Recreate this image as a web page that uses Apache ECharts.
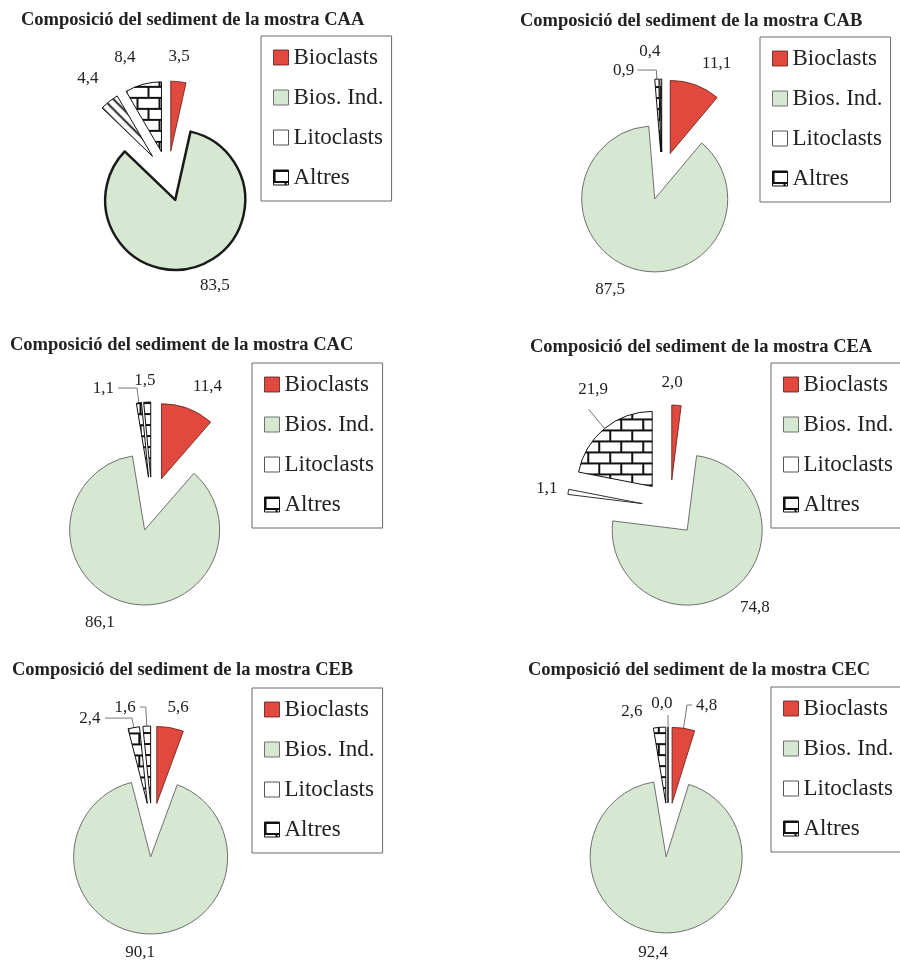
<!DOCTYPE html>
<html><head><meta charset="utf-8">
<script src="https://cdn.jsdelivr.net/npm/echarts@6/dist/echarts.min.js"></script>
<style>html,body{margin:0;padding:0;background:#fff}#c{width:900px;height:961px}</style>
</head><body><div id="c"></div>
<script>
// ---- data ----
const categories = ['Bioclasts', 'Bios. Ind.', 'Litoclasts', 'Altres'];
const samples = ['CAA', 'CAB', 'CAC', 'CEA', 'CEB', 'CEC'];
const valuesCAA = [3.5, 83.5, 4.4, 8.4];
const valuesCAB = [11.1, 87.5, 0.9, 0.4];
const valuesCAC = [11.4, 86.1, 1.1, 1.5];
const valuesCEA = [2.0, 74.8, 1.1, 21.9];
const valuesCEB = [5.6, 90.1, 2.4, 1.6];
const valuesCEC = [4.8, 92.4, 2.6, 0.0];
const titlePrefix = 'Composició del sediment de la mostra ';
const allValues = [valuesCAA, valuesCAB, valuesCAC, valuesCEA, valuesCEB, valuesCEC];

// ---- patterns ----
function brickCanvas() {
  const c = document.createElement('canvas'); c.width = 22; c.height = 22;
  const g = c.getContext('2d');
  g.fillStyle = '#fff'; g.fillRect(0, 0, 22, 22);
  g.strokeStyle = '#111'; g.lineWidth = 2;
  g.beginPath();
  g.moveTo(0, 1); g.lineTo(22, 1);
  g.moveTo(0, 12); g.lineTo(22, 12);
  g.moveTo(1, 1); g.lineTo(1, 12);
  g.moveTo(12, 12); g.lineTo(12, 22);
  g.stroke();
  return c;
}
function diagCanvas() {
  const c = document.createElement('canvas'); c.width = 10; c.height = 10;
  const g = c.getContext('2d');
  g.fillStyle = '#fff'; g.fillRect(0, 0, 10, 10);
  g.strokeStyle = '#111'; g.lineWidth = 1.8;
  g.beginPath();
  g.moveTo(-1, -1); g.lineTo(11, 11);
  g.moveTo(-1, 9); g.lineTo(1, 11);
  g.moveTo(9, -1); g.lineTo(11, 1);
  g.stroke();
  return c;
}
const brick = { image: brickCanvas(), repeat: 'repeat' };
const diag = { image: diagCanvas(), repeat: 'repeat' };

const RED = '#e1493f', GREEN = '#d6e8d2';
const styleRed = { color: RED, borderColor: '#5a1d18', borderWidth: 0.8 };
const styleGreen = { color: GREEN, borderColor: '#707070', borderWidth: 1 };
const styleGreenBold = { color: GREEN, borderColor: '#1a1a1a', borderWidth: 2.5 };
const styleWhite = { color: '#fff', borderColor: '#333', borderWidth: 1 };
const styleBrick = { color: brick, borderColor: '#111', borderWidth: 1 };
const styleDiag = { color: diag, borderColor: '#111', borderWidth: 1 };

// ---- layout (per chart); lab = [labelLine length, length2, distance, lift] per slice ----
const layout = [
  { center: [168, 176], r: 70, off: 25, title: [21, 11], legend: [261, 36],
    styles: [styleRed, styleGreenBold, styleDiag, styleBrick], leader: [0, 0, 0, 0],
    lab: [[24.7, 0, -12.7], [18.9, 0, -0.9], [29.7, 0, -7.6], [27.3, 0, 0.6]] },
  { center: [662, 176], r: 73, off: 24, title: [520, 12], legend: [760, 37],
    styles: [styleRed, styleGreen, styleBrick, styleBrick], leader: [0, 0, 1, 0],
    lab: [[23.2, 0, -1.1], [22.6, 0, 0.7], [9.1, 19, 3], [27, 0, -0.1]] },
  { center: [152, 504], r: 75, off: 27, title: [10, 336], legend: [252, 363],
    styles: [styleRed, styleGreen, styleBrick, styleBrick], leader: [0, 0, 1, 0],
    lab: [[22.9, 0, -2.8], [21.7, 0, 3.4], [14.9, 19, 4], [22.1, 0, -9.4]] },
  { center: [670, 508], r: 75, off: 28, title: [530, 338], legend: [771, 363],
    styles: [styleRed, styleGreen, styleWhite, styleBrick], leader: [0, 0, 0, 1],
    lab: [[22.3, 0, -16.4], [22.5, 0, -7.1], [20, 0, -9.1], [25, 0, -19.4, 20]] },
  { center: [152, 830], r: 77, off: 27, title: [12, 661], legend: [252, 688],
    styles: [styleRed, styleGreen, styleBrick, styleBrick], leader: [0, 0, 1, 1],
    lab: [[20.9, 0, -6.4], [19.1, 0, -9.3], [9.7, 27, 4.6], [19.1, 6, 4]] },
  { center: [668, 830], r: 76, off: 27, title: [528, 661], legend: [771, 687],
    styles: [styleRed, styleGreen, styleBrick, styleBrick], leader: [1, 0, 0, 1],
    lab: [[23.4, 5, 4], [20.3, 0, -8.5], [15.4, 0, 15.8], [12, 0, -4.5, 11]] }
];

const SERIF = '"Liberation Serif", "DejaVu Serif", serif';
const legendIconStyles = [
  { color: RED, borderColor: '#5a1d18', borderWidth: 0.8 },
  { color: GREEN, borderColor: '#707070', borderWidth: 1 },
  { color: '#fff', borderColor: '#555', borderWidth: 1 },
  { color: brick, borderColor: '#111', borderWidth: 1 }
];
const fmt = v => v.toFixed(1).replace('.', ',');

const titles = [], legends = [], series = [];
samples.forEach((s, k) => {
  const L = layout[k];
  titles.push({
    text: titlePrefix + s, left: L.title[0], top: L.title[1], padding: 0,
    textStyle: { fontFamily: SERIF, fontWeight: 'bold', fontSize: 18.5, color: '#222' }
  });
  legends.push({
    left: L.legend[0], top: L.legend[1], orient: 'vertical',
    padding: [10, 8, 12, 12], itemGap: 17, itemWidth: 15, itemHeight: 15,
    borderColor: '#6a6a6a', borderWidth: 1, icon: 'rect', selectedMode: false,
    textStyle: { fontFamily: SERIF, fontSize: 23, color: '#222' },
    data: categories.map((c, i) => ({ name: c, itemStyle: legendIconStyles[i] }))
  });
  series.push({
    type: 'pie', name: s, center: L.center, radius: L.r, startAngle: 90, clockwise: true,
    selectedMode: 'multiple', selectedOffset: L.off, avoidLabelOverlap: false,
    animation: false, emphasis: { disabled: true },
    label: {
      show: true, position: 'outside', fontFamily: SERIF, fontSize: 17, color: '#222',
      formatter: p => fmt(p.value)
    },
    labelLine: { show: false, lineStyle: { color: '#777', width: 1 } },
    data: categories.map((c, i) => {
      const lb = L.lab[i];
      const lift = lb[3] || 0;
      const label = { distanceToLabelLine: lb[2] };
      if (lift) {
        label.lineHeight = lift * 2;
        label.formatter = p => fmt(p.value) + '\n ';
      }
      return {
        name: c, value: allValues[k][i], selected: true,
        itemStyle: L.styles[i], label: label,
        labelLine: { show: !!L.leader[i], length: lb[0], length2: lb[1] }
      };
    })
  });
});

const chart = echarts.init(document.getElementById('c'));
chart.setOption({ backgroundColor: '#fff', animation: false, title: titles, legend: legends, series: series });
</script></body></html>
